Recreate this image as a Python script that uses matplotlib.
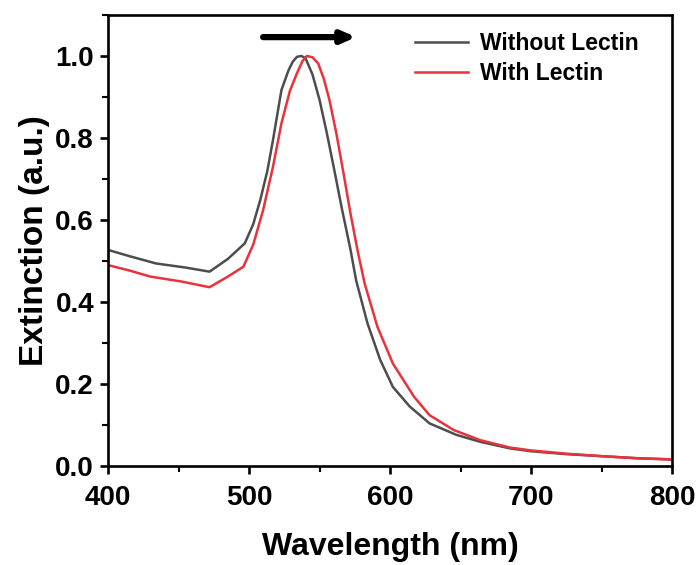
import numpy as np
from matplotlib import pyplot as plt
from matplotlib.ticker import MultipleLocator

# wavelength (nm) / extinction
wl_without = [400, 415, 434, 455, 472, 485, 497, 503, 508, 513, 517, 523, 528, 531, 534, 537,
              540, 545, 550, 555, 560, 566, 572, 576, 584, 593, 602, 614, 628, 647, 664, 685,
              700, 725, 750, 775, 800]
ext_without = [0.527, 0.512, 0.494, 0.484, 0.474, 0.505, 0.543, 0.59, 0.649, 0.72, 0.795, 0.917,
               0.965, 0.986, 0.998, 1.0, 0.995, 0.955, 0.893, 0.815, 0.730, 0.625, 0.527, 0.452,
               0.348, 0.259, 0.193, 0.145, 0.104, 0.076, 0.059, 0.043, 0.036, 0.029, 0.024,
               0.019, 0.016]

wl_with = [400, 415, 430, 452, 472, 485, 496, 503, 510, 517, 523, 529, 534, 538, 541, 545, 549,
           553, 557, 562, 567, 572, 577, 582, 591, 602, 617, 628, 645, 664, 685, 700, 725, 750,
           775, 800]
ext_with = [0.490, 0.477, 0.462, 0.450, 0.436, 0.462, 0.486, 0.540, 0.624, 0.730, 0.836, 0.915,
            0.958, 0.988, 1.0, 0.997, 0.982, 0.945, 0.893, 0.810, 0.714, 0.615, 0.525, 0.445,
            0.340, 0.250, 0.169, 0.124, 0.088, 0.063, 0.045, 0.038, 0.030, 0.024, 0.019, 0.016]

plt.rcParams.update({"font.family": "Liberation Sans", "font.weight": "bold"})

fig = plt.figure(figsize=(6.99, 5.65), dpi=100)
ax = fig.add_axes([0.1545, 0.1752, 0.807, 0.7983])

ax.plot(wl_without, ext_without, color="#4d4d4d", linewidth=1.8, label="Without Lectin")
ax.plot(wl_with, ext_with, color="#e8323c", linewidth=1.8, label="With Lectin")

ax.set_xlim(400, 800)
ax.set_ylim(0, 1.1)
ax.xaxis.set_major_locator(MultipleLocator(100))
ax.xaxis.set_minor_locator(MultipleLocator(50))
ax.yaxis.set_major_locator(MultipleLocator(0.2))
ax.yaxis.set_minor_locator(MultipleLocator(0.1))
ax.yaxis.set_major_formatter(lambda v, p: f"{v:.1f}")

for sp in ax.spines.values():
    sp.set_linewidth(1.9)
ax.tick_params(axis="both", which="major", direction="out", length=6, width=1.9, labelsize=20)
ax.tick_params(axis="x", which="major", pad=8)
ax.tick_params(axis="y", which="major", pad=4)
ax.tick_params(axis="both", which="minor", direction="out", length=4, width=1.5)

ax.set_xlabel("Wavelength (nm)", fontsize=23, fontweight="bold", labelpad=15)
ax.set_ylabel("Extinction (a.u.)", fontsize=24, fontweight="bold", labelpad=4)

ax.annotate("", xy=(576, 1.046), xytext=(510, 1.046),
            arrowprops=dict(arrowstyle="-|>,head_width=0.35,head_length=0.8",
                            color="black", lw=4.5, shrinkA=0, shrinkB=0))

ax.legend(loc="upper left", bbox_to_anchor=(0.544, 0.962), frameon=False,
          handlelength=2.3, handletextpad=0.55, labelspacing=0.3,
          borderpad=0, borderaxespad=0, prop={"weight": "bold", "size": 16.5})

fig.savefig("out.png", dpi=100)
